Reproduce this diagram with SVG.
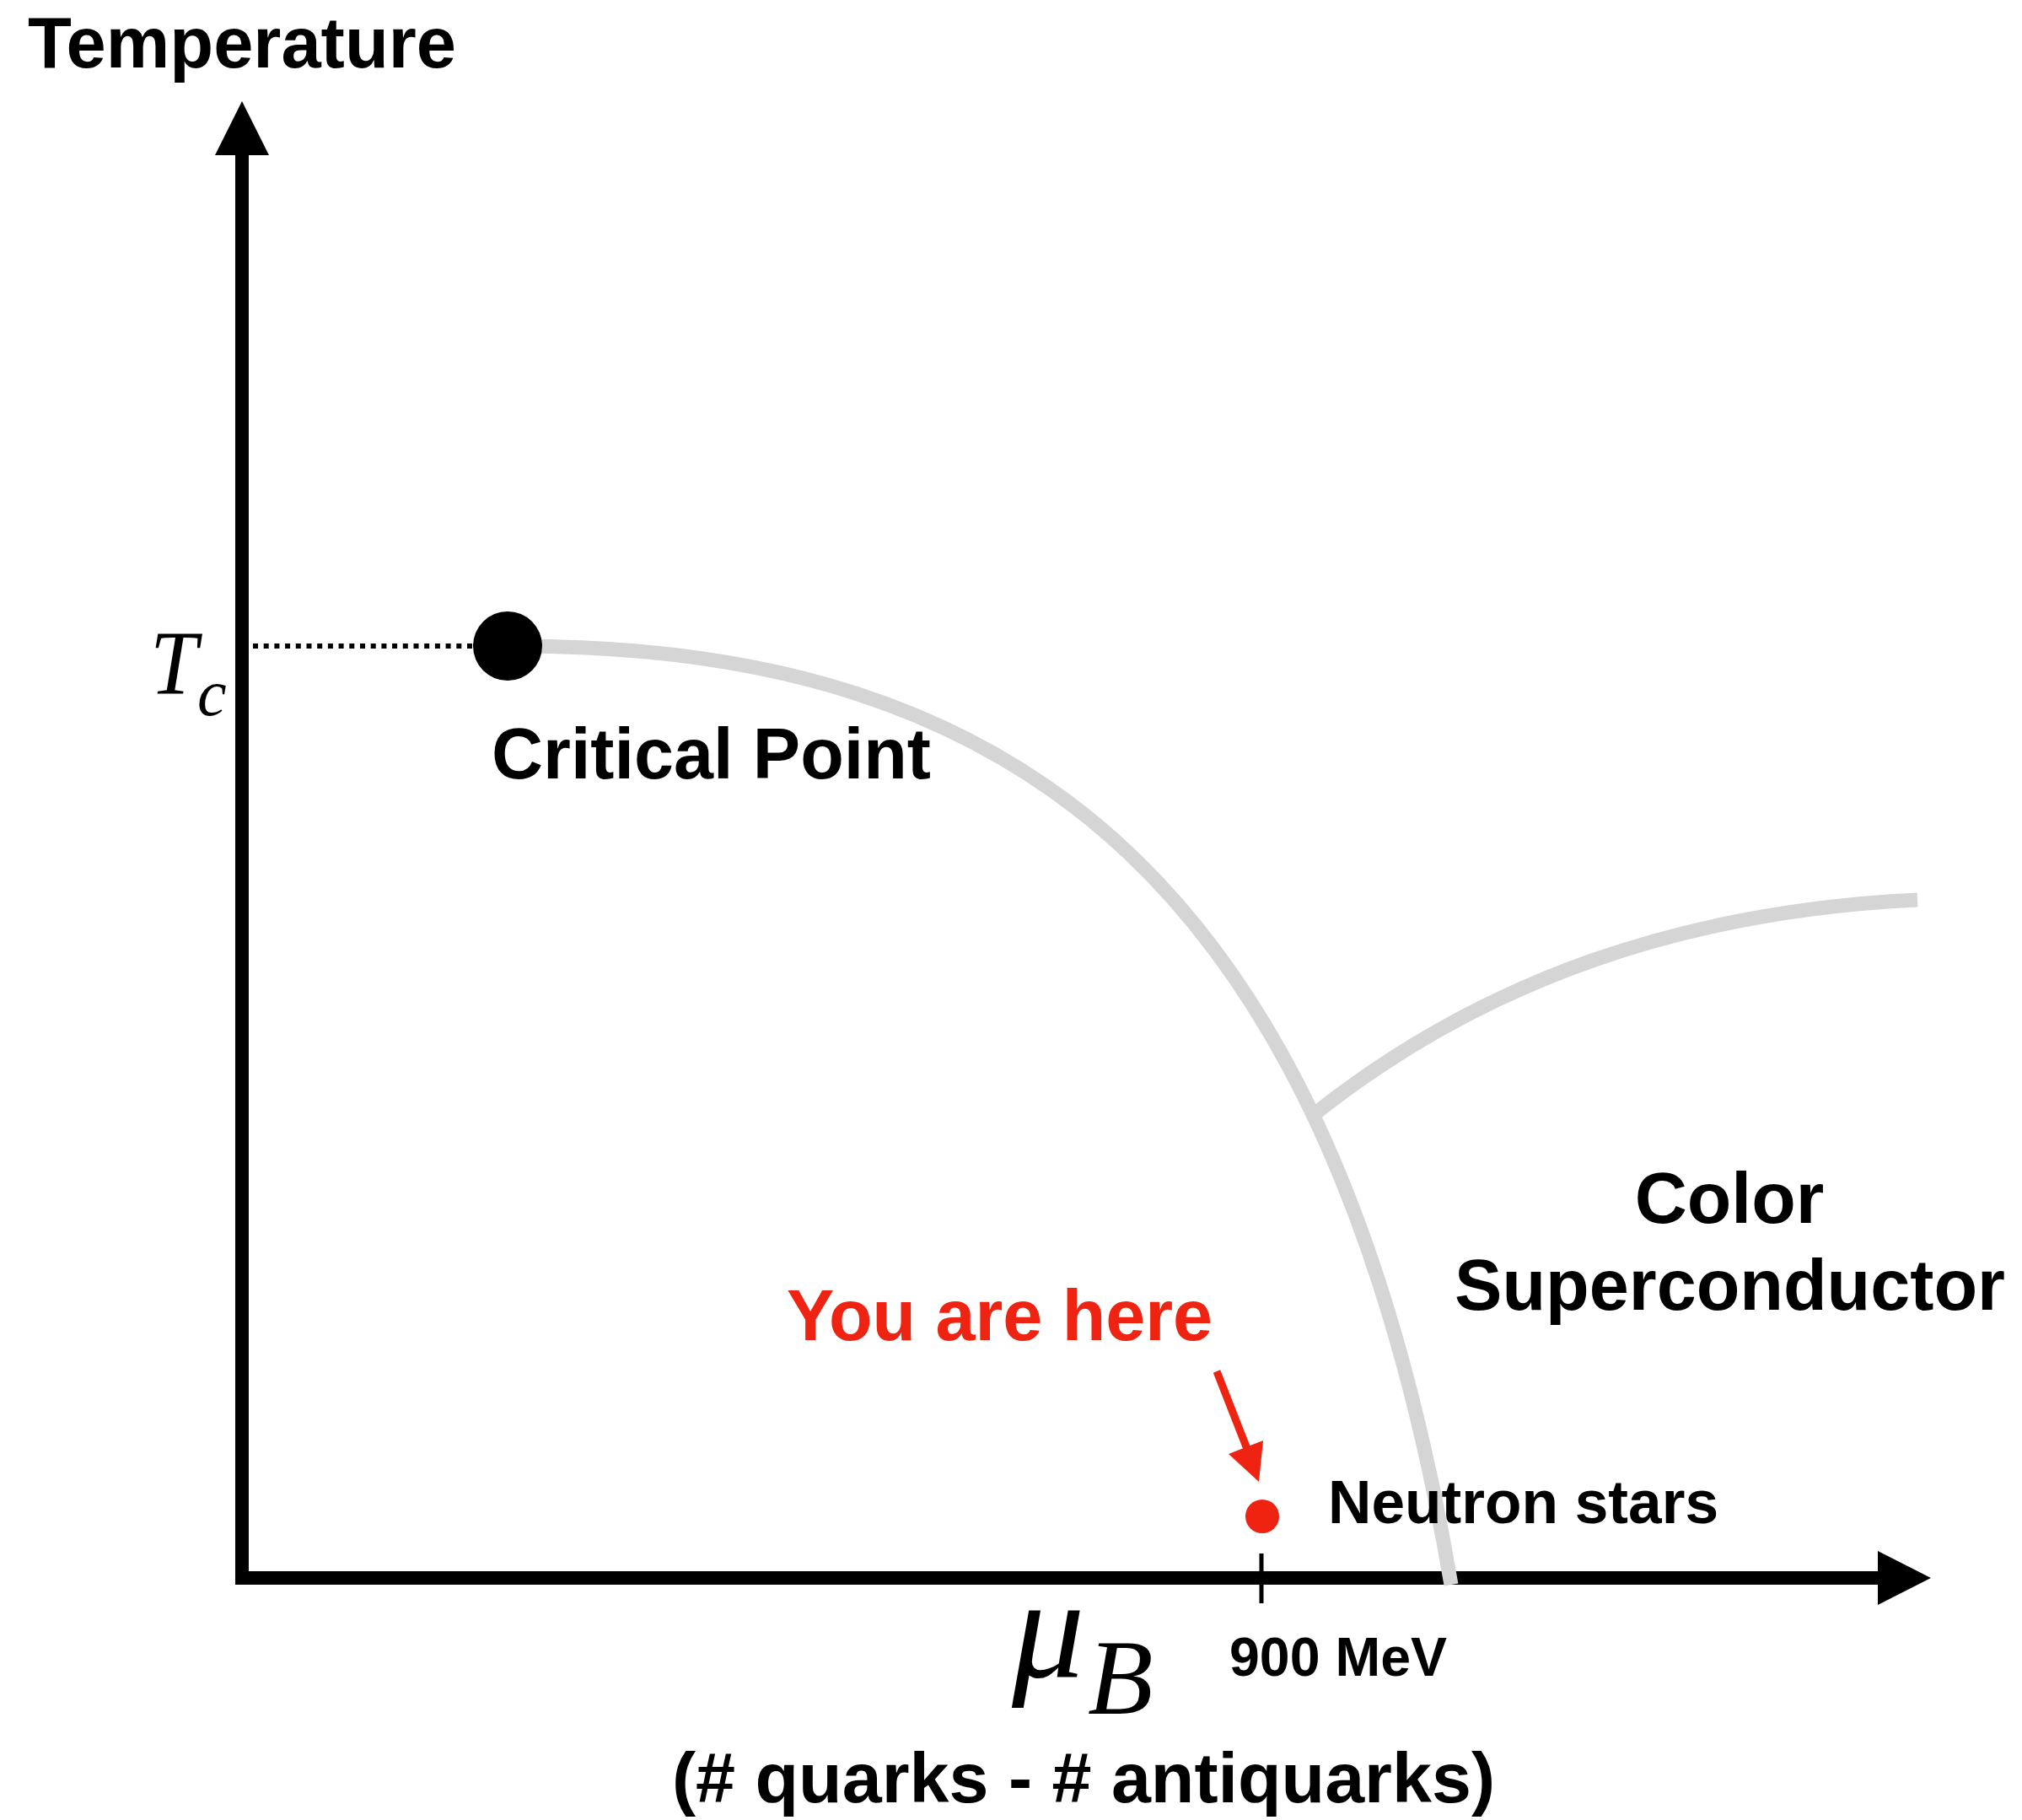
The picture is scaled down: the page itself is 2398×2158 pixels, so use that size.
<svg xmlns="http://www.w3.org/2000/svg" width="2398" height="2158" viewBox="0 0 2398 2158">
<style>
.lbl{font-family:"Liberation Sans",Arial,Helvetica,sans-serif;font-weight:bold;fill:#000}
.red{fill:#EE2311}
.math{font-family:"Liberation Serif","Times New Roman",serif;font-style:italic;fill:#000}
.phase{fill:none;stroke:#D5D5D5;stroke-width:17;stroke-linecap:butt}
</style>
<rect width="2398" height="2158" fill="#fff"/>
<g id="axes">
  <rect x="279" y="183" width="16" height="1696" fill="#000"/>
  <polygon points="287,120 255,184 319,184" fill="#000"/>
  <rect x="279" y="1863" width="1949" height="16" fill="#000"/>
  <polygon points="2290,1871 2227,1839 2227,1903" fill="#000"/>
  <rect x="1493.5" y="1842" width="5" height="59" fill="#000"/>
</g>
<g id="connectors">
  <line x1="300" y1="766" x2="565" y2="766" stroke="#000" stroke-width="6" stroke-dasharray="6 6.7"/>
  <path class="phase" d="M 612 766 C 1212 766, 1580 1050, 1721 1879"/>
  <path class="phase" d="M 1555 1324 C 1760 1160, 2000 1080, 2274 1067"/>
  <line x1="1443" y1="1626" x2="1479" y2="1718" stroke="#EE2311" stroke-width="9"/>
  <polygon points="1493,1757 1457,1724 1498,1708" fill="#EE2311"/>
</g>
<g id="critical-point">
  <circle cx="602" cy="766" r="41" fill="#000"/>
  <text class="lbl" x="583" y="923" font-size="86" textLength="521" lengthAdjust="spacingAndGlyphs">Critical Point</text>
</g>
<g id="temperature-label">
  <text class="lbl" x="33" y="80" font-size="85" textLength="508" lengthAdjust="spacingAndGlyphs">Temperature</text>
</g>
<g id="tc-label">
  <text class="math" x="178" y="822" font-size="107" textLength="56" lengthAdjust="spacingAndGlyphs">T</text>
  <text class="math" x="234" y="848" font-size="78">c</text>
</g>
<g id="mu-label">
  <text class="math" x="1200" y="1988" font-size="172">μ</text>
  <text class="math" x="1290" y="2032" font-size="127">B</text>
</g>
<g id="tick-label">
  <text class="lbl" x="1458" y="1987" font-size="64" textLength="258" lengthAdjust="spacingAndGlyphs">900 MeV</text>
</g>
<g id="x-caption">
  <text class="lbl" x="797" y="2137" font-size="84" textLength="976" lengthAdjust="spacingAndGlyphs">(# quarks - # antiquarks)</text>
</g>
<g id="color-superconductor">
  <text class="lbl" x="2051" y="1450" font-size="86" text-anchor="middle">Color</text>
  <text class="lbl" x="1725" y="1553" font-size="86" textLength="653" lengthAdjust="spacingAndGlyphs">Superconductor</text>
</g>
<g id="you-are-here">
  <text class="lbl red" x="933" y="1589" font-size="86" textLength="505" lengthAdjust="spacingAndGlyphs">You are here</text>
</g>
<g id="neutron-stars">
  <circle cx="1497" cy="1798" r="20" fill="#EE2311"/>
  <text class="lbl" x="1575" y="1806" font-size="72" textLength="463" lengthAdjust="spacingAndGlyphs">Neutron stars</text>
</g>
</svg>
